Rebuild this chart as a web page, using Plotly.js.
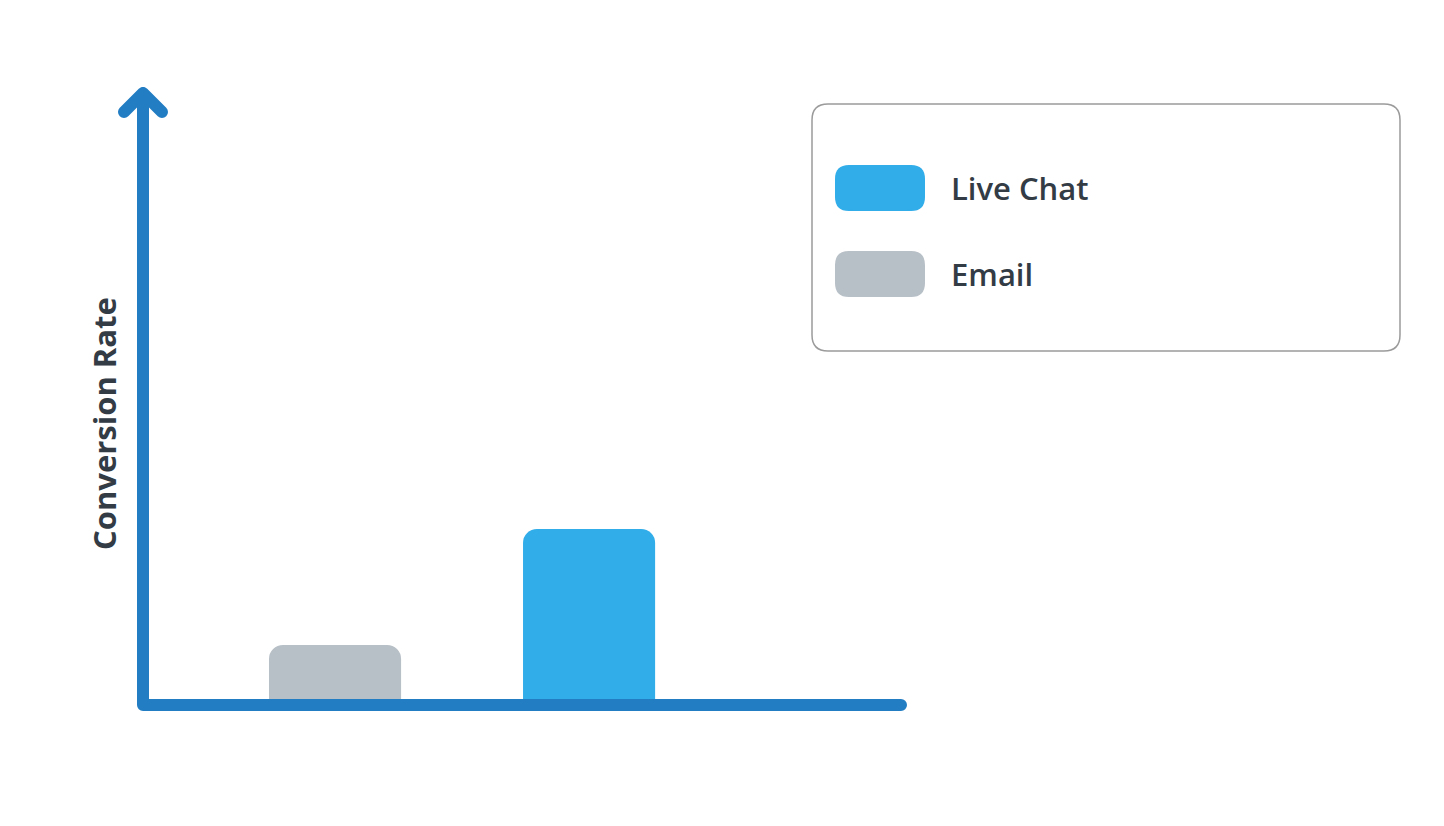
<!DOCTYPE html>
<html>
<head>
<meta charset="utf-8">
<script src="https://cdn.plot.ly/plotly-3.0.1.min.js"></script>
<style>
    html, body { margin: 0; padding: 0; background: #ffffff; }
    #chart { width: 1444px; height: 826px; }
</style>
</head>
<body>
<div id="chart"></div>
<script>
// data
const channels = ['Email', 'Live Chat'];
const conversionRates = [1.5, 4.4];
const barColors = ['#b8c0c7', '#31ade9'];
const legendOrder = [1, 0]; // Live Chat listed first in the legend box

// plot area in pixels
const W = 1444, H = 826;
const plotLeft = 143, plotRight = 901, plotTop = 93, plotBottom = 705;

// pixel -> paper helpers, for the decoration shapes
const px = (x) => (x - plotLeft) / (plotRight - plotLeft);
const py = (y) => (plotBottom - y) / (plotBottom - plotTop);

const roundedRect = (x0, y0, x1, y1, r) => {
    return 'M ' + px(x0 + r) + ',' + py(y0) +
        ' L ' + px(x1 - r) + ',' + py(y0) +
        ' Q ' + px(x1) + ',' + py(y0) + ' ' + px(x1) + ',' + py(y0 + r) +
        ' L ' + px(x1) + ',' + py(y1 - r) +
        ' Q ' + px(x1) + ',' + py(y1) + ' ' + px(x1 - r) + ',' + py(y1) +
        ' L ' + px(x0 + r) + ',' + py(y1) +
        ' Q ' + px(x0) + ',' + py(y1) + ' ' + px(x0) + ',' + py(y1 - r) +
        ' L ' + px(x0) + ',' + py(y0 + r) +
        ' Q ' + px(x0) + ',' + py(y0) + ' ' + px(x0 + r) + ',' + py(y0) + ' Z';
};

const axisColor = '#227dc3';
const textColor = '#333b45';

const bars = {
    x: channels.map((c, i) => i),
    y: conversionRates,
    text: channels,
    width: 0.52,
    marker: {
        color: barColors,
        line: {width: 0},
    },
    type: 'bar',
    hoverinfo: 'skip',
    textposition: 'none',
};

const shapes = [];
const annotations = [];

// axes: x axis, y axis and the open arrow head
shapes.push({
    type: 'path',
    xref: 'paper',
    yref: 'paper',
    path: 'M ' + px(plotRight) + ',' + py(plotBottom) +
        ' L ' + px(plotLeft) + ',' + py(plotBottom) +
        ' L ' + px(plotLeft) + ',' + py(plotTop) +
        ' M ' + px(plotLeft - 19) + ',' + py(plotTop + 19) +
        ' L ' + px(plotLeft) + ',' + py(plotTop) +
        ' L ' + px(plotLeft + 19) + ',' + py(plotTop + 19),
    line: {color: axisColor, width: 12},
    layer: 'above',
});

// legend box
shapes.push({
    type: 'path',
    xref: 'paper',
    yref: 'paper',
    path: roundedRect(812, 104, 1400, 351, 16),
    line: {color: '#9b9b9b', width: 1.5},
    fillcolor: 'rgba(0,0,0,0)',
    layer: 'above',
});

legendOrder.forEach((idx, row) => {
    const top = 165 + row * 86;
    shapes.push({
        type: 'path',
        xref: 'paper',
        yref: 'paper',
        path: roundedRect(835, top, 925, top + 46, 14),
        line: {width: 0},
        fillcolor: barColors[idx],
        layer: 'above',
    });
    annotations.push({
        xref: 'paper',
        yref: 'paper',
        x: px(949),
        y: py(top + 23),
        xanchor: 'left',
        yanchor: 'middle',
        text: channels[idx],
        showarrow: false,
        font: {family: 'Open Sans', size: 31, color: textColor, weight: 600},
    });
});

// y axis title
annotations.push({
    xref: 'paper',
    yref: 'paper',
    x: px(104),
    y: py(424),
    xanchor: 'center',
    yanchor: 'middle',
    textangle: -90,
    text: 'Conversion Rate',
    showarrow: false,
    font: {family: 'Open Sans', size: 31, color: textColor, weight: 700},
});

const layout = {
    width: W,
    height: H,
    showlegend: false,
    barcornerradius: 14,
    xaxis: {
        range: [-0.756, 2.228],
        showgrid: false,
        zeroline: false,
        showline: false,
        showticklabels: false,
        ticks: '',
        fixedrange: true,
    },
    yaxis: {
        range: [0, 15.3],
        showgrid: false,
        zeroline: false,
        showline: false,
        showticklabels: false,
        ticks: '',
        fixedrange: true,
    },
    shapes: shapes,
    annotations: annotations,
    plot_bgcolor: '#ffffff',
    paper_bgcolor: '#ffffff',
    margin: {
        l: plotLeft,
        r: W - plotRight,
        t: plotTop,
        b: H - plotBottom,
        pad: 0,
    },
    hovermode: false,
};

Plotly.newPlot('chart', [bars], layout, {
    displayModeBar: false,
    staticPlot: true,
}).then((gd) => {
    // rounded ends on the axis strokes
    gd.querySelectorAll('.shapelayer path').forEach((p) => {
        p.style.strokeLinecap = 'round';
        p.style.strokeLinejoin = 'round';
    });
});
</script>
</body>
</html>
